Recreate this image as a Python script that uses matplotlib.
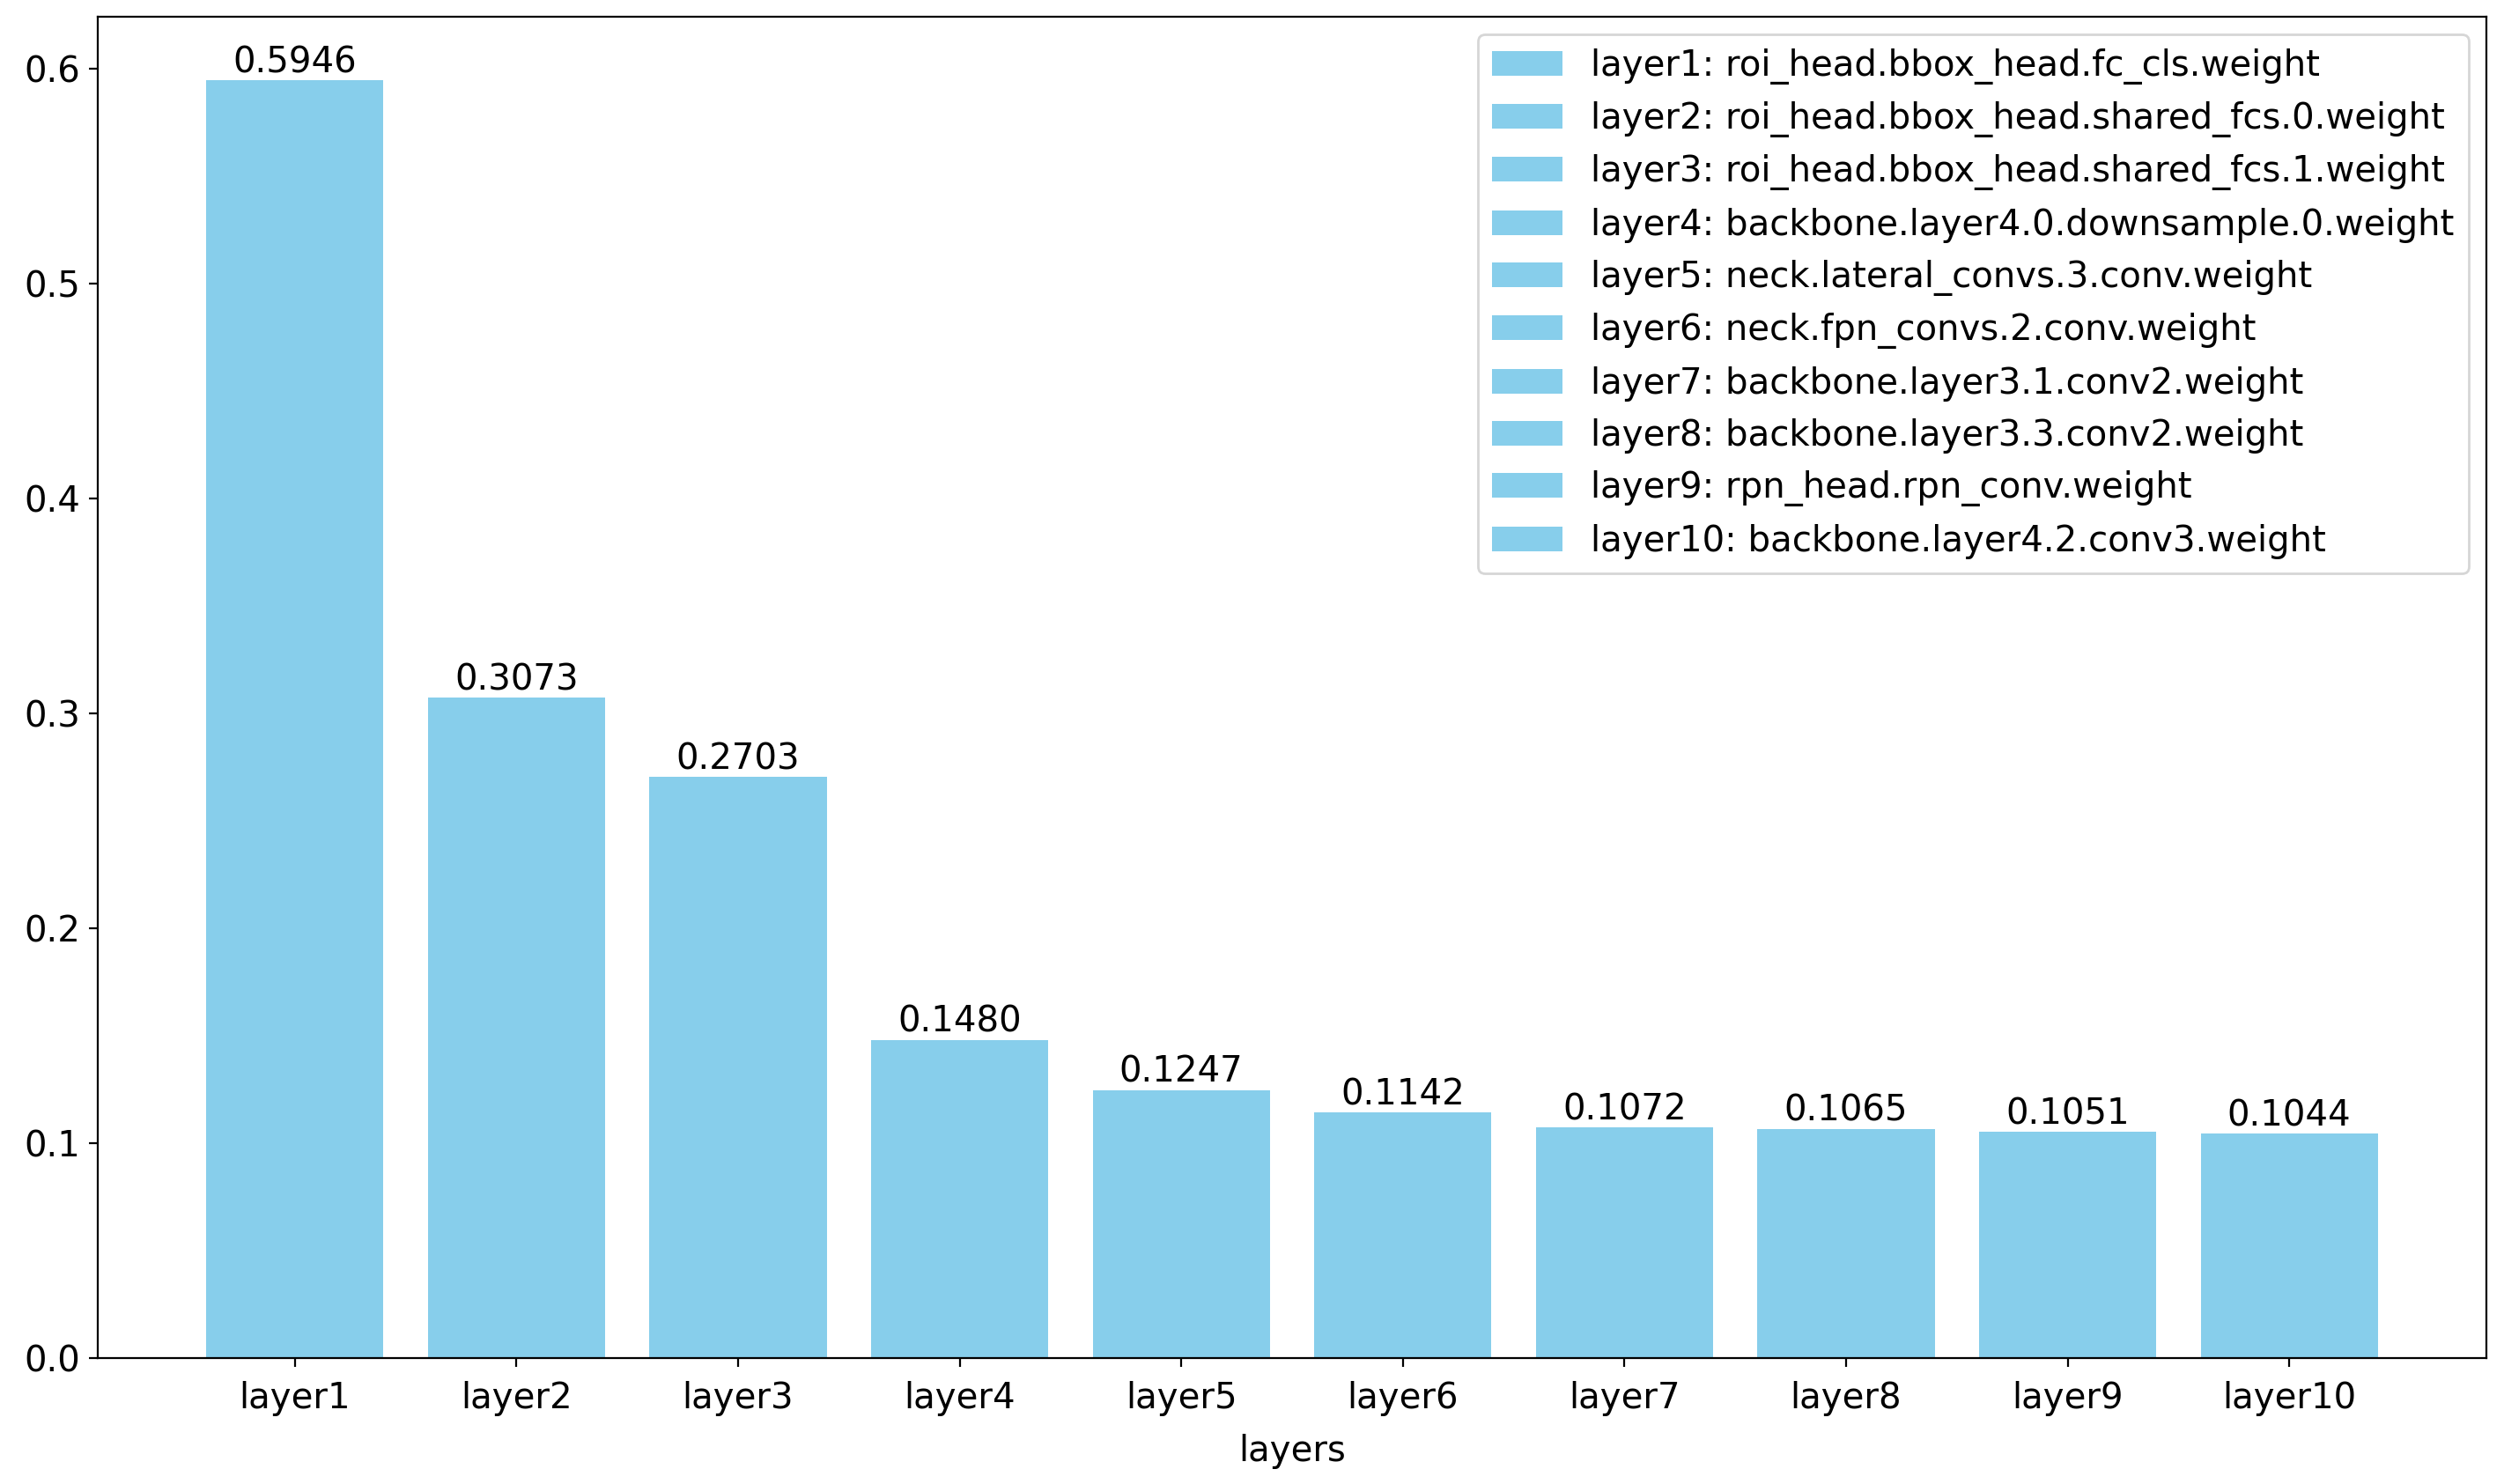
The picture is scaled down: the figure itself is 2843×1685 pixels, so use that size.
import matplotlib
matplotlib.use('Agg')
import matplotlib.pyplot as plt

# layer importance values
layers = ['layer1', 'layer2', 'layer3', 'layer4', 'layer5',
          'layer6', 'layer7', 'layer8', 'layer9', 'layer10']
values = [0.5946, 0.3073, 0.2703, 0.1480, 0.1247,
          0.1142, 0.1072, 0.1065, 0.1051, 0.1044]
param_names = [
    'roi_head.bbox_head.fc_cls.weight',
    'roi_head.bbox_head.shared_fcs.0.weight',
    'roi_head.bbox_head.shared_fcs.1.weight',
    'backbone.layer4.0.downsample.0.weight',
    'neck.lateral_convs.3.conv.weight',
    'neck.fpn_convs.2.conv.weight',
    'backbone.layer3.1.conv2.weight',
    'backbone.layer3.3.conv2.weight',
    'rpn_head.rpn_conv.weight',
    'backbone.layer4.2.conv3.weight',
]

plt.rcParams['font.family'] = 'DejaVu Sans'
plt.rcParams['font.size'] = 14.5

fig, ax = plt.subplots(figsize=(14.215, 8.425), dpi=200)
fig.subplots_adjust(left=0.039, right=0.993, bottom=0.085, top=0.989)

bars = ax.bar(layers, values, color='skyblue')
for bar, v in zip(bars, values):
    ax.text(bar.get_x() + bar.get_width() / 2, v, f'{v:.4f}',
            ha='center', va='bottom')

labels = [f'{l}: {n}' for l, n in zip(layers, param_names)]
ax.legend(bars, labels, loc='upper right', labelspacing=0.48)
ax.tick_params(axis='x', pad=6)
ax.set_xlabel('layers', labelpad=7)

plt.savefig('out.png', dpi=200)
